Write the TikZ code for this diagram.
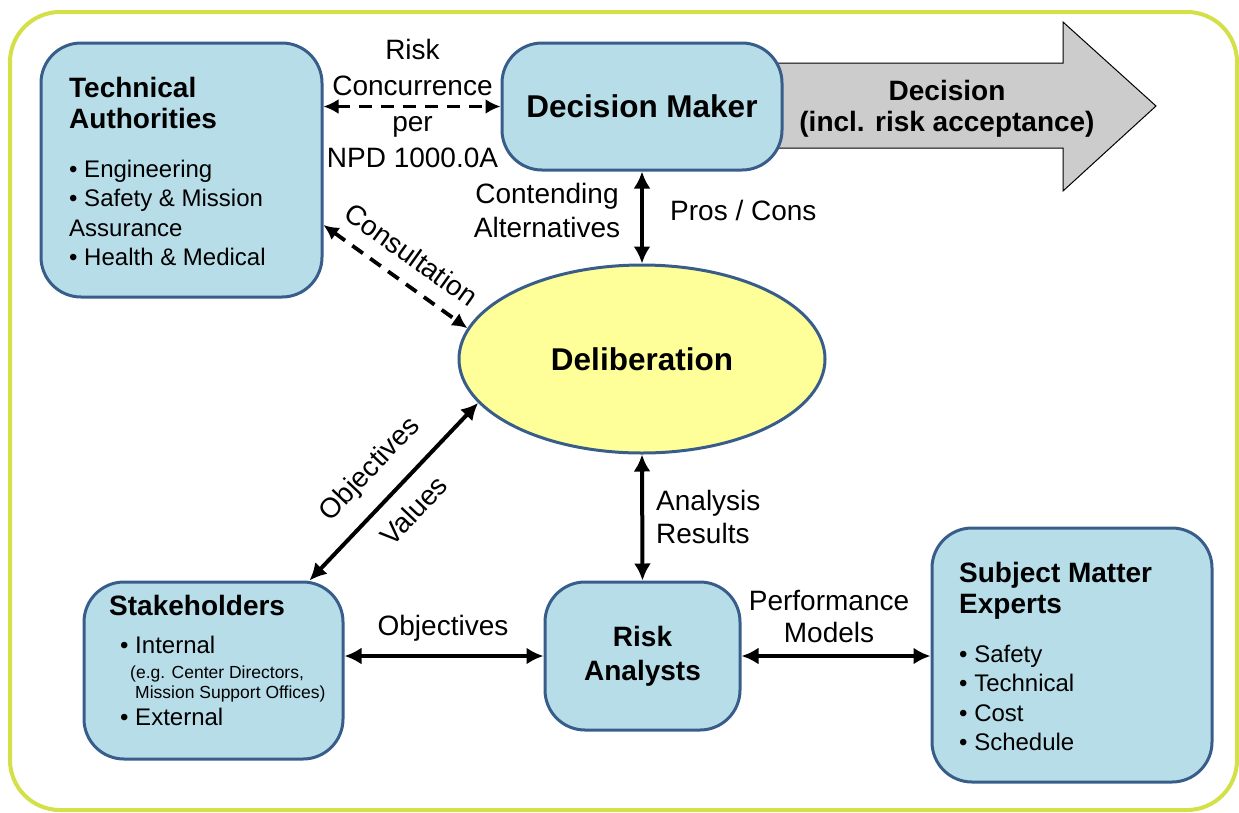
\documentclass[tikz,border=0pt]{standalone}
\usepackage{fontspec}
\setmainfont{Liberation Sans}
\usetikzlibrary{arrows.meta,shapes.geometric}
\definecolor{framegreen}{RGB}{212,224,72}
\definecolor{agentfill}{RGB}{183,221,232}
\definecolor{agentline}{RGB}{56,93,138}
\definecolor{delibfill}{RGB}{255,255,153}
\definecolor{decgray}{RGB}{204,204,204}
\tikzset{
  agent/.style={draw=agentline, fill=agentfill, line width=3pt, rounded corners=40pt, inner sep=0pt},
  heading/.style={font=\fontsize{28}{31}\selectfont\bfseries, inner sep=0pt, align=left, anchor=base west},
  items/.style={font=\fontsize{24}{29.5}\selectfont, inner sep=0pt, align=left, anchor=base west},
  lbl/.style={font=\fontsize{28}{34}\selectfont, inner sep=0pt, align=center},
  link/.style={line width=4pt, {Latex[length=17pt,width=17pt]}-{Latex[length=17pt,width=17pt]}},
  dashlink/.style={line width=3.8pt, {Latex[length=15pt,width=15pt]}-{Latex[length=15pt,width=15pt]},
    dash pattern=on 13pt off 9pt},
}
\begin{document}
\begin{tikzpicture}[x=1pt,y=-1pt]
\useasboundingbox (0,0) rectangle (1239,812);
% frame round everything
\draw[framegreen, line width=4pt, rounded corners=50pt] (10,12) rectangle (1237,810);
% the big decision arrow, behind the decision maker
\draw[fill=decgray, line width=1pt] (760,63) -- (1063,63) -- (1063,22) -- (1156,106)
  -- (1063,191) -- (1063,148) -- (760,148) -- cycle;
% (multi-line nodes: base = last line)
\node[heading, anchor=base, align=center] (dec) at (947,131) {Decision\\(incl. risk acceptance)};

% boxes
\node[agent, minimum width=281pt, minimum height=254pt] (ta) at (181.5,170) {};
\node[heading] (tahead) at (69,128) {Technical\\Authorities};
\node[items] (taitems) at (69,265.5) {• Engineering\\• Safety \& Mission\\Assurance\\• Health \& Medical};

\node[agent, minimum width=280pt, minimum height=127pt,
  font=\fontsize{31.5}{36}\selectfont\bfseries] (dm) at (642,106.5) {Decision Maker};

\node[ellipse, draw=agentline, fill=delibfill, line width=3pt, minimum width=366pt,
  minimum height=188pt, inner sep=0pt, font=\fontsize{31.5}{36}\selectfont\bfseries]
  (delib) at (642,359) {Deliberation};

\node[agent, minimum width=259pt, minimum height=177pt] (stk) at (213.5,670.5) {};
\node[heading] (stkhead) at (109,615) {Stakeholders};
\node[items] (stkint) at (120,653) {• Internal};
\node[items, font=\fontsize{17.5}{20}\selectfont] (stkeg) at (130,698)
  {(e.g. Center Directors,\\\hspace*{5pt}Mission Support Offices)};
\node[items] (stkext) at (120,725) {• External};

\node[agent, minimum width=195pt, minimum height=148pt, align=center,
  font=\fontsize{28}{34}\selectfont\bfseries] (ra) at (642.5,656) {Risk\\Analysts};

\node[agent, minimum width=280pt, minimum height=254pt] (sme) at (1072,655) {};
\node[heading] (smehead) at (959,613) {Subject Matter\\Experts};
\node[items] (smeitems) at (959,750.5) {• Safety\\• Technical\\• Cost\\• Schedule};

% connectors
\draw[dashlink] (ta.east |- dm.west) -- (dm.west);
\node[lbl, anchor=base, font=\fontsize{28}{35.7}\selectfont] (concl) at (412.5,167)
  {Risk\\Concurrence\\per\\NPD 1000.0A};

\coordinate (consta) at ([yshift=-55pt]ta.east);
\draw[dashlink] (consta) -- (delib.170)
  node[lbl, midway, sloped, above=15pt] (consl) {Consultation};

\draw[link] (dm.south) -- (delib.north);
\node[lbl, anchor=base] (contl) at (547,237) {Contending\\Alternatives};
\node[lbl, anchor=base west] (prosl) at (670,220) {Pros / Cons};

\coordinate (stkup) at ([xshift=-35pt]stk.north east);
\draw[link] (stkup) -- (delib.195)
  node[lbl, midway, sloped, above=17pt] (objl) {Objectives}
  node[lbl, midway, sloped, below=15pt] (vall) {Values};

\draw[link] (delib.south) -- (ra.north);
\node[lbl, anchor=base west, align=left, font=\fontsize{28}{33}\selectfont] (anl) at (656,543)
  {Analysis\\Results};

\draw[link] (stk.east |- ra.west) -- (ra.west);
\node[lbl, anchor=base] (objl2) at (443,635) {Objectives};

\draw[link] (ra.east) -- (sme.west |- ra.east);
\node[lbl, anchor=base, font=\fontsize{28}{32}\selectfont] (perfl) at (829,642)
  {Performance\\Models};
\end{tikzpicture}
\end{document}
